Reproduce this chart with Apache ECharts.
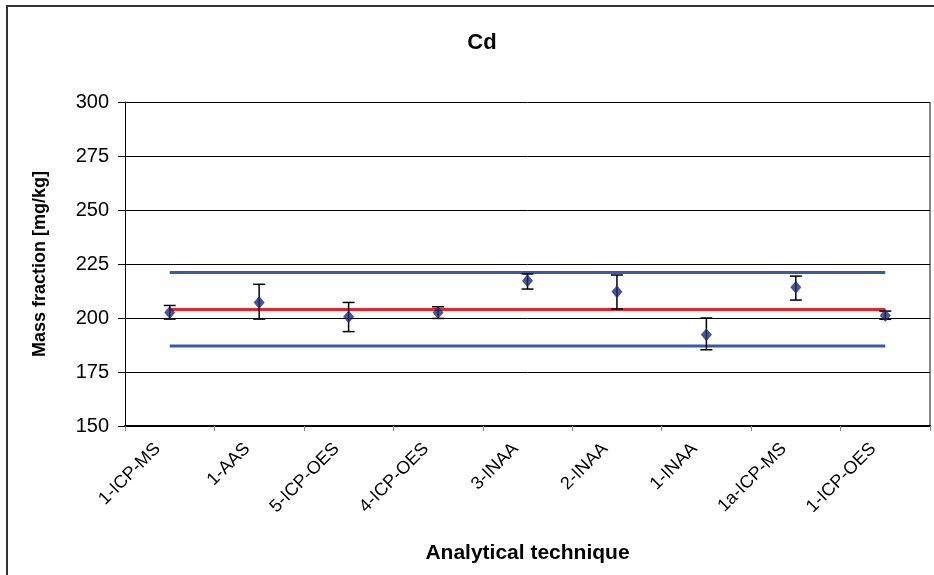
<!DOCTYPE html>
<html>
<head>
<meta charset="utf-8">
<script src="https://cdn.jsdelivr.net/npm/echarts@6/dist/echarts.min.js"></script>
<style>
  html, body { margin: 0; padding: 0; background: #fff; }
  #chart { width: 934px; height: 575px; }
</style>
</head>
<body>
<div id="chart"></div>
<script>
// laboratories / techniques
const categories = ['1-ICP-MS', '1-AAS', '5-ICP-OES', '4-ICP-OES', '3-INAA', '2-INAA', '1-INAA', '1a-ICP-MS', '1-ICP-OES']
// reported mass fractions and their uncertainty limits
const values = [202.6, 207.2, 200.6, 202.6, 217.3, 212.2, 192.3, 214.2, 201.2]
const lower = [199.5, 199.5, 193.7, 199.8, 213.4, 204.2, 185.3, 208.3, 199.4]
const upper = [205.8, 215.6, 207.2, 205.2, 220.4, 219.9, 200.0, 219.4, 203.2]
// assigned value and acceptance limits
const assigned = 203.9
const upperLimit = 221.1
const lowerLimit = 187.0
const yTicks = [150, 175, 200, 225, 250, 275, 300]

const font = 'Liberation Sans, Arial, sans-serif'
let myChart = echarts.init(document.getElementById('chart'))

let options = {
  animation: false,
  textStyle: { fontFamily: font },
  title: {
    text: 'Cd',
    left: 477,
    top: 27,
    textAlign: 'center',
    textStyle: { fontSize: 22, fontWeight: 'bold', color: '#000', fontFamily: font }
  },
  grid: { left: 125, right: 4, top: 102, bottom: 149 },
  graphic: [
    // outer chart frame (only top and left edges are visible)
    { type: 'rect', shape: { x: 7, y: 6, width: 960, height: 600 }, style: { fill: null, stroke: '#333', lineWidth: 2 }, silent: true },
    // plot area right edge
    { type: 'line', shape: { x1: 930, y1: 102, x2: 930, y2: 427 }, style: { stroke: '#888', lineWidth: 2 }, silent: true }
  ],
  xAxis: {
    type: 'category',
    data: categories,
    boundaryGap: true,
    name: 'Analytical technique',
    nameLocation: 'middle',
    nameGap: 117,
    nameTextStyle: { fontSize: 21, fontWeight: 'bold', color: '#000', fontFamily: font },
    axisLine: { lineStyle: { color: '#000', width: 2 } },
    axisTick: { show: true, length: 5, lineStyle: { color: '#888' } },
    axisLabel: { rotate: 45, fontSize: 18, color: '#000', margin: 8, padding: [0, 17, 0, 0], fontFamily: font, interval: 0 }
  },
  yAxis: {
    type: 'value',
    min: yTicks[0],
    max: yTicks[yTicks.length - 1],
    interval: 25,
    name: 'Mass fraction [mg/kg]',
    nameLocation: 'middle',
    nameGap: 76,
    nameTextStyle: { fontSize: 18, fontWeight: 'bold', color: '#000', fontFamily: font },
    axisLine: { show: true, lineStyle: { color: '#000', width: 1 } },
    axisTick: { show: true, length: 7, lineStyle: { color: '#000' } },
    axisLabel: { fontSize: 20, color: '#000', margin: 16, fontFamily: font },
    splitLine: { show: true, lineStyle: { color: '#000', width: 1 } }
  },
  series: [
    {
      name: 'upper limit',
      type: 'line',
      data: categories.map(() => upperLimit),
      symbol: 'none',
      lineStyle: { color: '#3a5aa8', width: 3 },
      z: 2
    },
    {
      name: 'lower limit',
      type: 'line',
      data: categories.map(() => lowerLimit),
      symbol: 'none',
      lineStyle: { color: '#3a5aa8', width: 3 },
      z: 2
    },
    {
      name: 'assigned',
      type: 'line',
      data: categories.map(() => assigned),
      symbol: 'none',
      lineStyle: { color: '#e8232a', width: 3 },
      z: 3
    },
    {
      // error bars
      name: 'uncertainty',
      type: 'custom',
      data: categories.map((c, i) => [i, lower[i], upper[i]]),
      renderItem: function (params, api) {
        let lo = api.coord([api.value(0), api.value(1)])
        let hi = api.coord([api.value(0), api.value(2)])
        let w = 6
        let style = { stroke: '#000', lineWidth: 1.5 }
        return {
          type: 'group',
          children: [
            { type: 'line', shape: { x1: lo[0], y1: lo[1], x2: hi[0], y2: hi[1] }, style: style },
            { type: 'line', shape: { x1: lo[0] - w, y1: lo[1], x2: lo[0] + w, y2: lo[1] }, style: style },
            { type: 'line', shape: { x1: hi[0] - w, y1: hi[1], x2: hi[0] + w, y2: hi[1] }, style: style }
          ]
        }
      },
      z: 4
    },
    {
      name: 'result',
      type: 'scatter',
      data: values,
      symbol: 'diamond',
      symbolSize: [11, 13],
      itemStyle: { color: '#1f2a70' },
      z: 5
    }
  ]
}
myChart.setOption(options)
</script>
</body>
</html>
